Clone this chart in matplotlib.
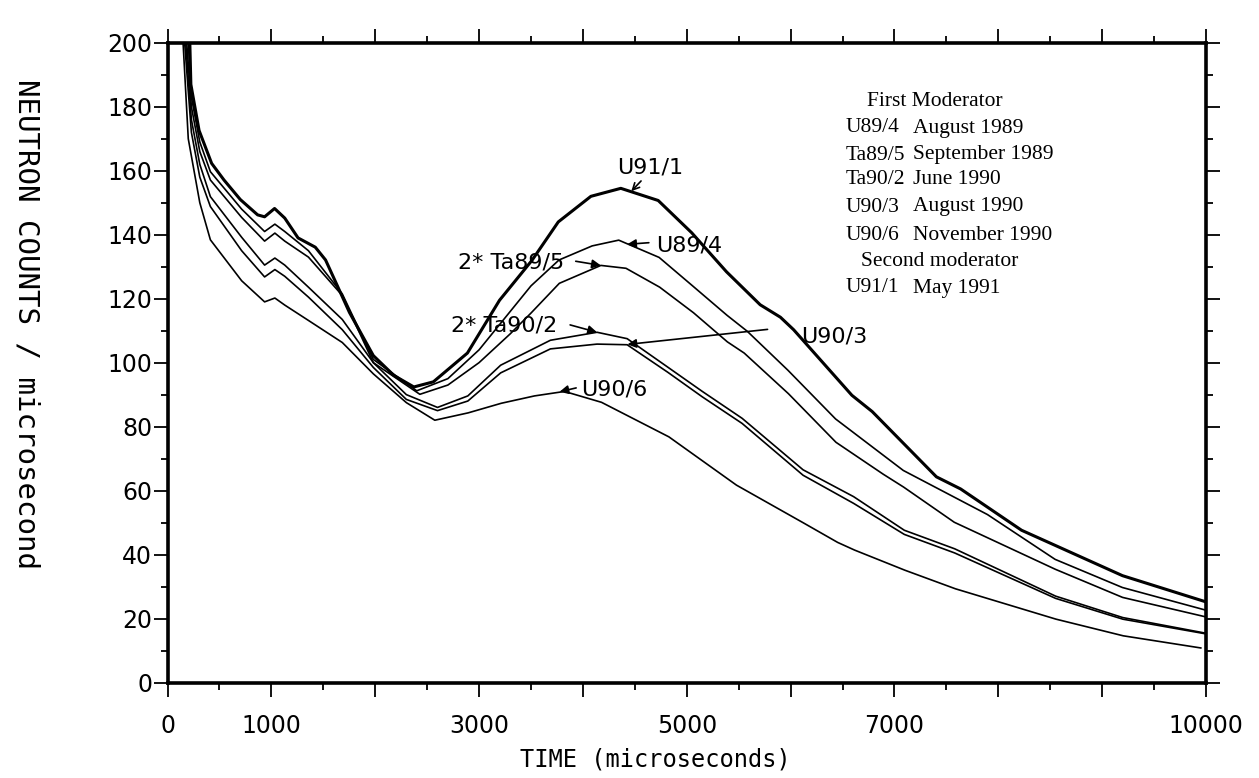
import matplotlib
matplotlib.use("Agg")
import matplotlib.pyplot as plt
from matplotlib.ticker import MultipleLocator

# values: time (microseconds) and neutron counts / microsecond
t_u911 = [215, 225, 304, 425, 544, 701, 868, 935, 1031, 1129, 1257, 1423, 1522, 1622, 1752,
          1982, 2180, 2372, 2560, 2888, 3197, 3510, 3763, 4077, 4365, 4725, 5048, 5383, 5707,
          5902, 6029, 6590, 6786, 7404, 7638, 8224, 9196, 10000]
n_u911 = [200, 187, 172.6, 162.3, 157.1, 151, 146.2, 145.6, 148.2, 145.2, 139, 136.1, 132.1, 125,
          115.7, 102.2, 96, 92.4, 94, 103, 119.5, 132, 144, 152, 154.5, 150.7, 140.6, 128.4, 118.1,
          114.2, 110.3, 89.8, 84.7, 64.3, 60.5, 47.6, 33.4, 25.2]

t_u894 = [200, 230, 311, 413, 714, 935, 1034, 1129, 1357, 1683, 1982, 2400, 2700, 3000, 3300,
          3500, 3770, 4089, 4345, 4734, 5060, 5388, 5583, 5975, 6433, 7085, 7896, 8547, 9195, 10000]
n_u894 = [200, 183, 169, 159.7, 148, 141, 143.3, 141, 135, 121.5, 101, 91.2, 95, 104, 116,
          124, 132.1, 136.5, 138.3, 132.9, 123.9, 114.8, 109.8, 97.6, 82.4, 66.3, 52.5, 38.5, 29.7, 22.6]

t_ta895 = [185, 230, 311, 413, 714, 935, 1034, 1129, 1357, 1683, 1982, 2430, 2700, 3000, 3300,
           3500, 3773, 4173, 4415, 4739, 5065, 5391, 5553, 5979, 6437, 6893, 7088, 7576, 8549,
           9197, 10000]
n_ta895 = [200, 180, 166, 157.1, 145.4, 138, 140.5, 138, 133, 121, 100, 90.1, 93, 100, 109,
           115.5, 124.8, 130.4, 129.5, 123.6, 115.6, 106.5, 103, 90.3, 75.1, 65.1, 61.1, 50.1, 35.4,
           26.6, 20.5]

t_ta902 = [175, 230, 311, 413, 714, 935, 1034, 1129, 1357, 1683, 1982, 2300, 2600, 2892, 3208,
           3687, 4136, 4426, 4817, 5150, 5533, 6120, 6607, 7095, 7580, 8552, 9199, 10000]
n_ta902 = [200, 176, 162, 151.9, 139.2, 130.5, 132.7, 130.5, 123.6, 113.5, 100, 90, 86, 89.6, 99.2,
           107, 109.5, 107.5, 98.6, 91, 82.6, 66.5, 58.1, 47.6, 41.8, 27, 20.3, 15.4]

t_u903 = [165, 230, 311, 413, 714, 935, 1034, 1129, 1357, 1683, 1982, 2300, 2600, 2892, 3208,
          3687, 4136, 4426, 4817, 5150, 5533, 6120, 6607, 7095, 7580, 8552, 9199, 10000]
n_u903 = [200, 172, 158, 148.8, 135, 126.8, 129.1, 127, 120.5, 110.3, 98.5, 88.5, 85, 88, 96.8,
          104.3, 105.8, 105.6, 97, 89.3, 81, 64.8, 56, 46.3, 40.5, 26.3, 19.8, 15.2]

t_u906 = [150, 200, 311, 413, 714, 935, 1034, 1129, 1357, 1683, 1982, 2300, 2574, 2895, 3214,
          3534, 3823, 4179, 4828, 5479, 6129, 6453, 6616, 7101, 7587, 8556, 9203, 9950]
n_u906 = [200, 170, 150, 138.4, 125.6, 119, 120.2, 118, 113.2, 106.3, 96.5, 87.5, 82, 84.3, 87.3,
          89.6, 91, 87.6, 76.8, 61.7, 49.8, 43.8, 41.4, 35.1, 29.3, 19.8, 14.6, 10.8]

xtick_values = list(range(0, 10001, 1000))
xtick_labels = ['0', '1000', '', '3000', '', '5000', '', '7000', '', '', '10000']

legend_codes = ['U89/4', 'Ta89/5', 'Ta90/2', 'U90/3', 'U90/6', 'U91/1']
legend_dates = ['August 1989', 'September 1989', 'June 1990', 'August 1990',
                'November 1990', 'May 1991']

W, H = 1259, 778
fig = plt.figure(figsize=(W / 100, H / 100), dpi=100)
ax = fig.add_axes([167.5 / W, 1 - 682.5 / H, (1206 - 167.5) / W, (682.5 - 42.8) / H])

ax.plot(t_u911, n_u911, color='black', lw=2.2)
for t, n in [(t_u894, n_u894), (t_ta895, n_ta895), (t_ta902, n_ta902),
             (t_u903, n_u903), (t_u906, n_u906)]:
    ax.plot(t, n, color='black', lw=1.2)

ax.set_xlim(0, 10000)
ax.set_ylim(0, 200)
ax.set_xticks(xtick_values)
ax.set_xticklabels(xtick_labels)
ax.xaxis.set_minor_locator(MultipleLocator(500))
ax.yaxis.set_major_locator(MultipleLocator(20))
ax.yaxis.set_minor_locator(MultipleLocator(10))
ax.tick_params(which='both', direction='out', top=True, right=True, width=1.3, colors='black')
ax.tick_params(which='major', length=10, labelsize=17)
ax.tick_params(which='minor', length=5)
ax.tick_params(axis='x', which='major', pad=13)
ax.tick_params(axis='y', which='major', pad=1)
for lab in ax.get_xticklabels() + ax.get_yticklabels():
    lab.set_family('DejaVu Sans')
for s in ax.spines.values():
    s.set_linewidth(2.6)

# curve labels and arrows
arrow = dict(arrowstyle='-|>', color='black', lw=1.2, mutation_scale=13, shrinkA=0, shrinkB=0)
ax.text(4650, 161, 'U91/1', fontsize=16, ha='center', va='center')
ax.annotate('', xy=(4466, 153.6), xytext=(4560, 156.8),
            arrowprops=dict(arrowstyle='->', color='black', lw=1.2, mutation_scale=12,
                            shrinkA=0, shrinkB=0))
ax.text(4703, 136.5, 'U89/4', fontsize=16, ha='left', va='center')
ax.annotate('', xy=(4426, 137), xytext=(4635, 137.5), arrowprops=arrow)
ax.text(3819, 131.4, '2* Ta89/5', fontsize=16, ha='right', va='center')
ax.annotate('', xy=(4173, 130.4), xytext=(3931, 131.7), arrowprops=arrow)
ax.text(3752, 111.6, '2* Ta90/2', fontsize=16, ha='right', va='center')
ax.annotate('', xy=(4136, 109.5), xytext=(3877, 111.8), arrowprops=arrow)
ax.text(6097, 108.2, 'U90/3', fontsize=16, ha='left', va='center')
ax.annotate('', xy=(4429, 105.7), xytext=(5778, 110.4), arrowprops=arrow)
ax.text(3985, 91.5, 'U90/6', fontsize=16, ha='left', va='center')
ax.annotate('', xy=(3775, 90.9), xytext=(3935, 92.1), arrowprops=arrow)

# legend block in serif type
serif = dict(family='Liberation Serif', fontsize=15.5, va='center')
fig.text(867 / W, 1 - 101 / H, 'First Moderator', **serif)
rows_y = [128, 155, 180, 207, 235, 288]
for code, date, y in zip(legend_codes, legend_dates, rows_y):
    fig.text(846 / W, 1 - y / H, code, **serif)
    fig.text(913 / W, 1 - y / H, date, **serif)
fig.text(861 / W, 1 - 262 / H, 'Second moderator', **serif)

fig.text(26 / W, 1 - 324 / H, 'NEUTRON COUNTS / microsecond', rotation=270,
         family='DejaVu Sans Mono', fontsize=21, ha='center', va='center')
fig.text(655 / W, 1 - 760 / H, 'TIME (microseconds)', family='DejaVu Sans Mono',
         fontsize=17, ha='center', va='center')

fig.savefig('out.png', dpi=100, facecolor='white')
